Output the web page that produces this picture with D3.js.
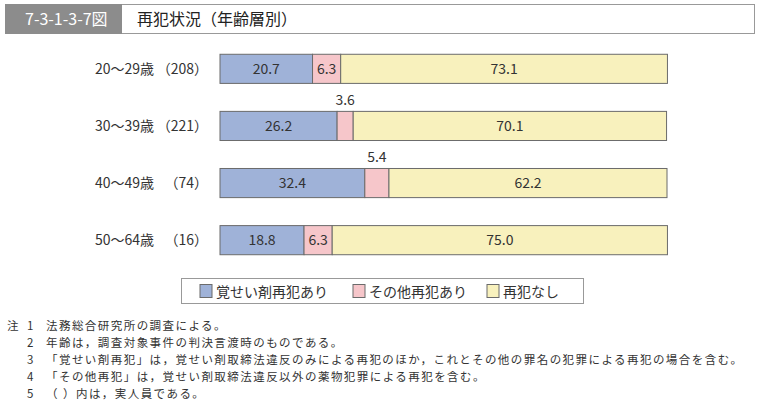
<!DOCTYPE html>
<html>
<head>
<meta charset="utf-8">
<script src="https://cdn.jsdelivr.net/npm/d3@7"></script>
<style>
  body { margin: 0; background: #fff; }
  svg text { font-family: "Noto Sans CJK JP", "Noto Sans", sans-serif; }
</style>
</head>
<body>
<svg width="759" height="410"></svg>
<script>
// data
var ages = ["20～29歳", "30～39歳", "40～49歳", "50～64歳"];
var counts = ["（208）", "（221）", "（74）", "（16）"];
var stimulant = [20.7, 26.2, 32.4, 18.8];
var other = [6.3, 3.6, 5.4, 6.3];
var none = [73.1, 70.1, 62.2, 75.0];
var seriesNames = ["覚せい剤再犯あり", "その他再犯あり", "再犯なし"];
var notes = [
  ["注", "1", "法務総合研究所の調査による。"],
  ["", "2", "年齢は，調査対象事件の判決言渡時のものである。"],
  ["", "3", "「覚せい剤再犯」は，覚せい剤取締法違反のみによる再犯のほか，これとその他の罪名の犯罪による再犯の場合を含む。"],
  ["", "4", "「その他再犯」は，覚せい剤取締法違反以外の薬物犯罪による再犯を含む。"],
  ["", "5", "（  ）内は，実人員である。"]
];

var colors = ["#9fb2d8", "#f6c6ca", "#f8f1bd"];
var svg = d3.select("svg");

// title bar
svg.append("rect").attr("x", 5.5).attr("y", 4.5).attr("width", 749).attr("height", 29)
    .attr("fill", "#fff").attr("stroke", "#999");
svg.append("rect").attr("x", 5).attr("y", 4).attr("width", 117).attr("height", 30)
    .attr("fill", "#8c8c8c");
svg.append("text").attr("x", 25).attr("y", 25).text("7-3-1-3-7図")
    .style("fill", "#fff").style("font-size", "16px");
svg.append("text").attr("x", 137).attr("y", 25).text("再犯状況（年齢層別）")
    .style("fill", "#222").style("font-size", "16px");

var x = d3.scaleLinear().domain([0, 100]).range([220, 667]);
var y = d3.scaleBand().domain(ages).range([40, 269]).paddingInner(0.49).paddingOuter(0.25);

var rows = ages.map(function(a, i) {
    return { age: a, count: counts[i], vals: [stimulant[i], other[i], none[i]] };
});

var g = svg.append("g");
rows.forEach(function(r) {
    var cum = 0;
    r.vals.forEach(function(v, j) {
        var x0 = x(cum), x1 = x(cum + v);
        g.append("rect")
            .attr("x", x0).attr("y", y(r.age))
            .attr("width", x1 - x0).attr("height", y.bandwidth())
            .attr("fill", colors[j]).attr("stroke", "#6b6b6b").attr("stroke-width", 1);
        var cx = (x0 + x1) / 2;
        var inside = v >= 6;
        g.append("text")
            .attr("x", cx)
            .attr("y", inside ? y(r.age) + y.bandwidth() / 2 + 5 : y(r.age) - 6)
            .attr("text-anchor", "middle")
            .text(v.toFixed(1))
            .style("fill", "#333").style("font-size", "14px");
        cum += v;
    });
    g.append("text").attr("x", 95).attr("y", y(r.age) + y.bandwidth() / 2 + 5)
        .text(r.age).style("fill", "#333").style("font-size", "14px");
    g.append("text").attr("x", 208).attr("y", y(r.age) + y.bandwidth() / 2 + 5)
        .attr("text-anchor", "end")
        .text(r.count).style("fill", "#333").style("font-size", "14px");
});

// legend
svg.append("rect").attr("x", 181.5).attr("y", 278.5).attr("width", 402).attr("height", 25)
    .attr("fill", "#fff").attr("stroke", "#999");
var legX = [200, 353, 487];
seriesNames.forEach(function(n, i) {
    svg.append("rect").attr("x", legX[i]).attr("y", 284.5).attr("width", 12).attr("height", 13)
        .attr("fill", colors[i]).attr("stroke", "#6b6b6b");
    svg.append("text").attr("x", legX[i] + 16).attr("y", 297).text(n)
        .style("fill", "#333").style("font-size", "14px");
});

// notes
notes.forEach(function(n, i) {
    var yy = 330 + i * 16.9;
    svg.append("text").attr("x", 7).attr("y", yy).text(n[0]).style("fill", "#333").style("font-size", "11.5px");
    svg.append("text").attr("x", 27).attr("y", yy).text(n[1]).style("fill", "#333").style("font-size", "11.5px");
    svg.append("text").attr("x", 46).attr("y", yy).text(n[2]).style("fill", "#333").style("font-size", "11.5px")
        .style("letter-spacing", "1.45px");
});
</script>
</body>
</html>
